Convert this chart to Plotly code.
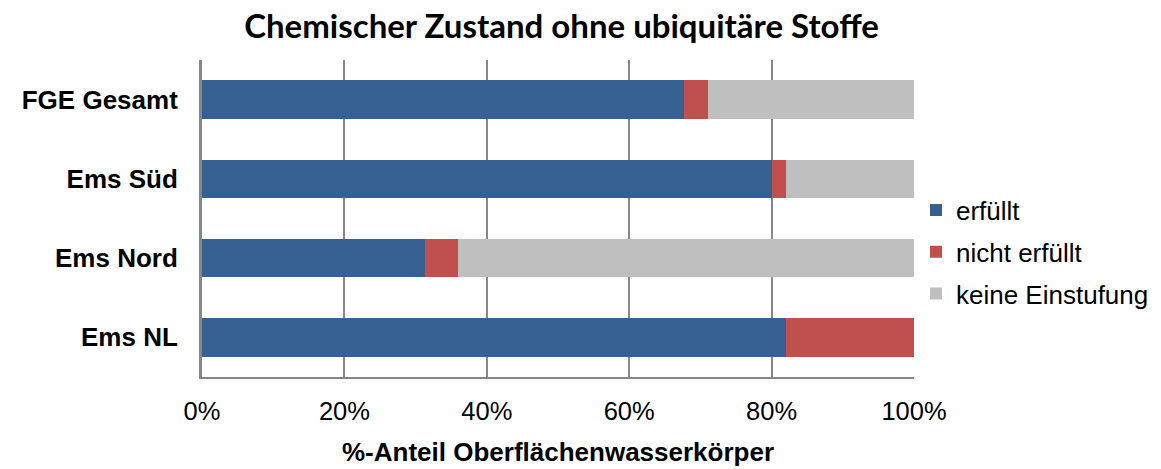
import plotly.graph_objects as go

categories = ["FGE Gesamt", "Ems Süd", "Ems Nord", "Ems NL"]
erfuellt = [67.7, 80.1, 31.3, 82.0]
nicht_erfuellt = [3.4, 1.9, 4.6, 18.0]
keine_einstufung = [28.9, 18.0, 64.1, 0.0]
tick_vals = [0, 20, 40, 60, 80, 100]
tick_text = ["0%", "20%", "40%", "60%", "80%", "100%"]

series = [
    ("erfüllt", erfuellt, "#376092"),
    ("nicht erfüllt", nicht_erfuellt, "#C0504D"),
    ("keine Einstufung", keine_einstufung, "#BFBFBF"),
]

fig = go.Figure()
for name, vals, col in series:
    fig.add_trace(go.Bar(
        y=categories, x=vals, name=name, orientation="h",
        legendgroup=name,
        marker=dict(color=col, line=dict(width=0)),
    ))

fig.update_layout(
    width=1161, height=469,
    barmode="stack", bargap=0.513,
    plot_bgcolor="white", paper_bgcolor="white",
    margin=dict(l=202, r=247, t=60, b=92, autoexpand=False),
    font=dict(family="Liberation Sans, Arial", size=26, color="black"),
    title=dict(text="<b>Chemischer Zustand ohne ubiquitäre Stoffe</b>",
               x=561.5 / 1161, xanchor="center", y=1 - 26 / 469, yanchor="middle",
               font=dict(family="Lato, Calibri", size=33, color="black")),
    legend=dict(x=1.0028, xanchor="left", y=0.394, yanchor="middle",
                traceorder="grouped", font=dict(size=26),
                itemwidth=30, tracegroupgap=5),
    showlegend=True,
)
fig.update_xaxes(
    range=[0, 100], tickvals=tick_vals, ticktext=tick_text,
    showgrid=True, gridcolor="#878787", gridwidth=2,
    showline=True, linecolor="#878787", linewidth=2, mirror=False,
    ticks="", tickfont=dict(size=25.5), automargin=False,
    ticklabelstandoff=10,
    title=dict(text="<b>%-Anteil Oberflächenwasserkörper</b>", font=dict(size=26), standoff=19),
    zeroline=False,
)
fig.update_yaxes(
    autorange="reversed", automargin=False,
    showline=True, linecolor="#878787", linewidth=3,
    ticks="",
    tickfont=dict(size=26),
    tickprefix="<b>", ticksuffix="</b>",
    showgrid=False, ticklabelstandoff=16,
)

fig.write_html("out.html", config={"displayModeBar": False},
               post_script="document.body.style.margin='0';")
